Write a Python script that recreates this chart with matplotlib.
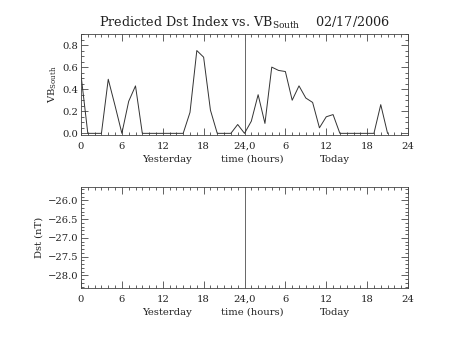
import matplotlib
matplotlib.use("Agg")
import matplotlib.pyplot as plt
from matplotlib.ticker import MultipleLocator, FixedLocator

plt.rcParams['font.family'] = ['DejaVu Serif']
plt.rcParams['mathtext.fontset'] = 'dejavuserif'

hours = list(range(0, 46))
vb_south = [0.53, 0.0, 0.0, 0.0, 0.49, 0.25, 0.0, 0.29, 0.43, 0.0,
            0.0, 0.0, 0.0, 0.0, 0.0, 0.0, 0.19, 0.75, 0.69, 0.21,
            0.0, 0.0, 0.0, 0.08, 0.0, 0.11, 0.35, 0.09, 0.60, 0.57,
            0.56, 0.30, 0.43, 0.32, 0.28, 0.05, 0.15, 0.17, 0.0, 0.0,
            0.0, 0.0, 0.0, 0.0, 0.26, 0.0]

xtick_pos = [0, 6, 12, 18, 24, 30, 36, 42, 48]
xtick_labels = ["0", "6", "12", "18", "24,0", "6", "12", "18", "24"]
dst_ticks = [-26.0, -26.5, -27.0, -27.5, -28.0]

W, H = 453, 340
fig = plt.figure(figsize=(W / 100, H / 100), dpi=100)

def px_axes(left, top, right, bottom):
    return fig.add_axes([left / W, 1 - bottom / H, (right - left) / W, (bottom - top) / H])

ax1 = px_axes(81, 34, 408, 135)
ax2 = px_axes(81, 187, 408, 288)

fs = 7.2
col = '#222222'

def style(ax):
    ax.set_xlim(0, 48)
    ax.xaxis.set_major_locator(FixedLocator(xtick_pos))
    ax.set_xticklabels(xtick_labels)
    ax.xaxis.set_minor_locator(MultipleLocator(1))
    ax.tick_params(which='both', direction='in', top=True, right=True,
                   labelsize=fs, colors=col, width=0.5)
    ax.tick_params(which='major', length=5)
    ax.tick_params(which='minor', length=2.5)
    ax.tick_params(axis='x', pad=5)
    ax.tick_params(axis='y', pad=2)
    for s in ax.spines.values():
        s.set_linewidth(0.6)
        s.set_color('#444444')
    ax.axvline(24, color='#666666', lw=0.7)
    trans = ax.get_xaxis_transform()
    ax.text(12.6, -0.24, "Yesterday", transform=trans, ha='center', va='center',
            fontsize=fs, color=col)
    ax.text(25.1, -0.24, "time (hours)", transform=trans, ha='center', va='center',
            fontsize=fs, color=col)
    ax.text(37.3, -0.24, "Today", transform=trans, ha='center', va='center',
            fontsize=fs, color=col)

style(ax1)
ax1.plot(hours, vb_south, color='#333333', lw=0.7)
ax1.set_ylim(-0.015, 0.9)
ax1.yaxis.set_major_locator(MultipleLocator(0.2))
ax1.yaxis.set_minor_locator(MultipleLocator(0.05))
ax1.yaxis.set_major_formatter(matplotlib.ticker.FormatStrFormatter('%.1f'))
ax1.set_ylabel(r"VB$_{\mathrm{South}}$", fontsize=fs, color=col, labelpad=2)
ax1.set_title(r"Predicted Dst Index vs. VB$_{\mathrm{South}}$    02/17/2006",
              fontsize=9.2, color=col, pad=5)

style(ax2)
ax2.set_ylim(-28.34, -25.64)
ax2.yaxis.set_major_locator(FixedLocator(dst_ticks))
ax2.yaxis.set_minor_locator(MultipleLocator(0.1))
ax2.yaxis.set_major_formatter(matplotlib.ticker.FuncFormatter(lambda v, p: f"\u2212{abs(v):.1f}"))
ax2.set_ylabel("Dst (nT)", fontsize=fs, color=col, labelpad=3)

fig.savefig("out.png", dpi=100)
